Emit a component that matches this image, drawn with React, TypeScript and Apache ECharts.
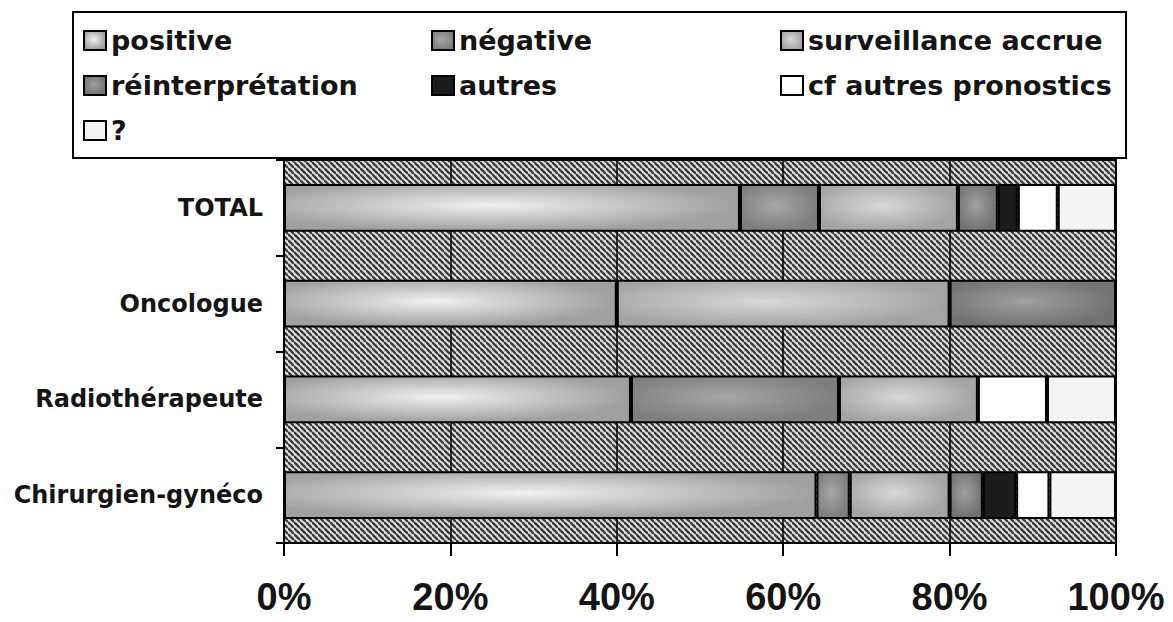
import React, { useEffect, useRef } from "react";
import * as echarts from "echarts";

// ---- data ----
const categories = ["TOTAL", "Oncologue", "Radiothérapeute", "Chirurgien-gynéco"];
const seriesNames = [
  "positive",
  "négative",
  "surveillance accrue",
  "réinterprétation",
  "autres",
  "cf autres pronostics",
  "?",
];
const positive = [54.8, 40, 41.7, 64];
const negative = [9.5, 0, 25, 4];
const surveillance = [16.7, 40, 16.7, 12];
const reinterpretation = [4.8, 20, 0, 4];
const autres = [2.4, 0, 0, 4];
const cfAutres = [4.8, 0, 8.3, 4];
const inconnu = [7.0, 0, 8.3, 8];
const seriesValues = [positive, negative, surveillance, reinterpretation, autres, cfAutres, inconnu];

const xMin = 0;
const xMax = 100;
const xStep = 20;

const legendColumns = [
  ["positive", "réinterprétation", "?"],
  ["négative", "autres"],
  ["surveillance accrue", "cf autres pronostics"],
];

// ---- styles ----
const radial = (c0: string, c1: string) =>
  new echarts.graphic.RadialGradient(0.45, 0.45, 0.55, [
    { offset: 0, color: c0 },
    { offset: 1, color: c1 },
  ]);

const seriesColors: any[] = [
  radial("#f0f0f0", "#a0a0a0"),
  radial("#a6a6a6", "#7e7e7e"),
  radial("#d8d8d8", "#a4a4a4"),
  radial("#a0a0a0", "#727272"),
  "#1c1c1c",
  "#ffffff",
  "#f3f3f3",
];

function makeHatch() {
  const c = document.createElement("canvas");
  c.width = 6;
  c.height = 6;
  const ctx = c.getContext("2d")!;
  ctx.fillStyle = "#e2e2e2";
  ctx.fillRect(0, 0, 6, 6);
  ctx.strokeStyle = "#3c3c3c";
  ctx.lineWidth = 2.3;
  for (const k of [-1, 0, 1]) {
    ctx.beginPath();
    ctx.moveTo(0, k * 6);
    ctx.lineTo(6, 6 + k * 6);
    ctx.stroke();
  }
  return c;
}

export default function App() {
  const ref = useRef<HTMLDivElement>(null);

  useEffect(() => {
    if (!ref.current) return;
    const chart = echarts.init(ref.current, undefined, { renderer: "svg" });
    const hatch = makeHatch();

    const legendCommon = {
      orient: "vertical",
      padding: 0,
      itemWidth: 22,
      itemHeight: 19,
      itemGap: 18,
      icon: "rect",
      selectedMode: false,
      itemStyle: { borderColor: "#000", borderWidth: 2 },
      textStyle: {
        fontFamily: "DejaVu Sans",
        fontWeight: "bold",
        fontSize: 27,
        lineHeight: 26,
        color: "#151515",
      },
    };
    const legendLefts = [83, 431, 780];

    const option: any = {
      animation: false,
      backgroundColor: "#ffffff",
      graphic: [
        {
          type: "rect",
          z: 3,
          shape: { x: 73, y: 12, width: 1053, height: 146 },
          style: { fill: "#ffffff", stroke: "#000000", lineWidth: 2 },
        },
      ],
      legend: legendColumns.map((col, i) => ({
        ...legendCommon,
        left: legendLefts[i],
        top: 27,
        data: col,
      })),
      grid: {
        left: 284,
        right: 57,
        top: 160,
        bottom: 79,
        show: true,
        backgroundColor: {
          image: hatch,
          repeat: "repeat",
          imageWidth: 6,
          imageHeight: 6,
        },
        borderColor: "#000",
        borderWidth: 2,
      },
      xAxis: {
        type: "value",
        min: xMin,
        max: xMax,
        interval: xStep,
        axisLine: { show: true, lineStyle: { color: "#000", width: 2 } },
        axisTick: { show: true, length: 13, lineStyle: { color: "#000", width: 2 } },
        splitLine: { show: true, lineStyle: { color: "#000", width: 1.5 } },
        axisLabel: {
          formatter: "{value}%",
          fontFamily: "Liberation Sans",
          fontWeight: "bold",
          fontSize: 38,
          color: "#151515",
          margin: 35,
        },
      },
      yAxis: {
        type: "category",
        inverse: true,
        data: categories,
        axisLine: { show: true, lineStyle: { color: "#000", width: 2 } },
        axisTick: { show: true, length: 8, lineStyle: { color: "#000", width: 2 } },
        splitLine: { show: false },
        axisLabel: {
          fontFamily: "DejaVu Sans",
          fontWeight: "bold",
          fontSize: 24,
          color: "#151515",
          margin: 21,
        },
      },
      series: seriesNames.map((name, i) => ({
        name,
        type: "bar",
        stack: "all",
        barWidth: "50%",
        data: seriesValues[i].map((v) => (v === 0 ? "-" : v)),
        itemStyle: { color: seriesColors[i], borderColor: "#000", borderWidth: 2 },
        emphasis: { disabled: true },
      })),
    };

    chart.setOption(option);
    return () => chart.dispose();
  }, []);

  return (
    <div
      ref={ref}
      style={{ position: "fixed", left: 0, top: 0, width: 1173, height: 622, background: "#fff" }}
    />
  );
}
